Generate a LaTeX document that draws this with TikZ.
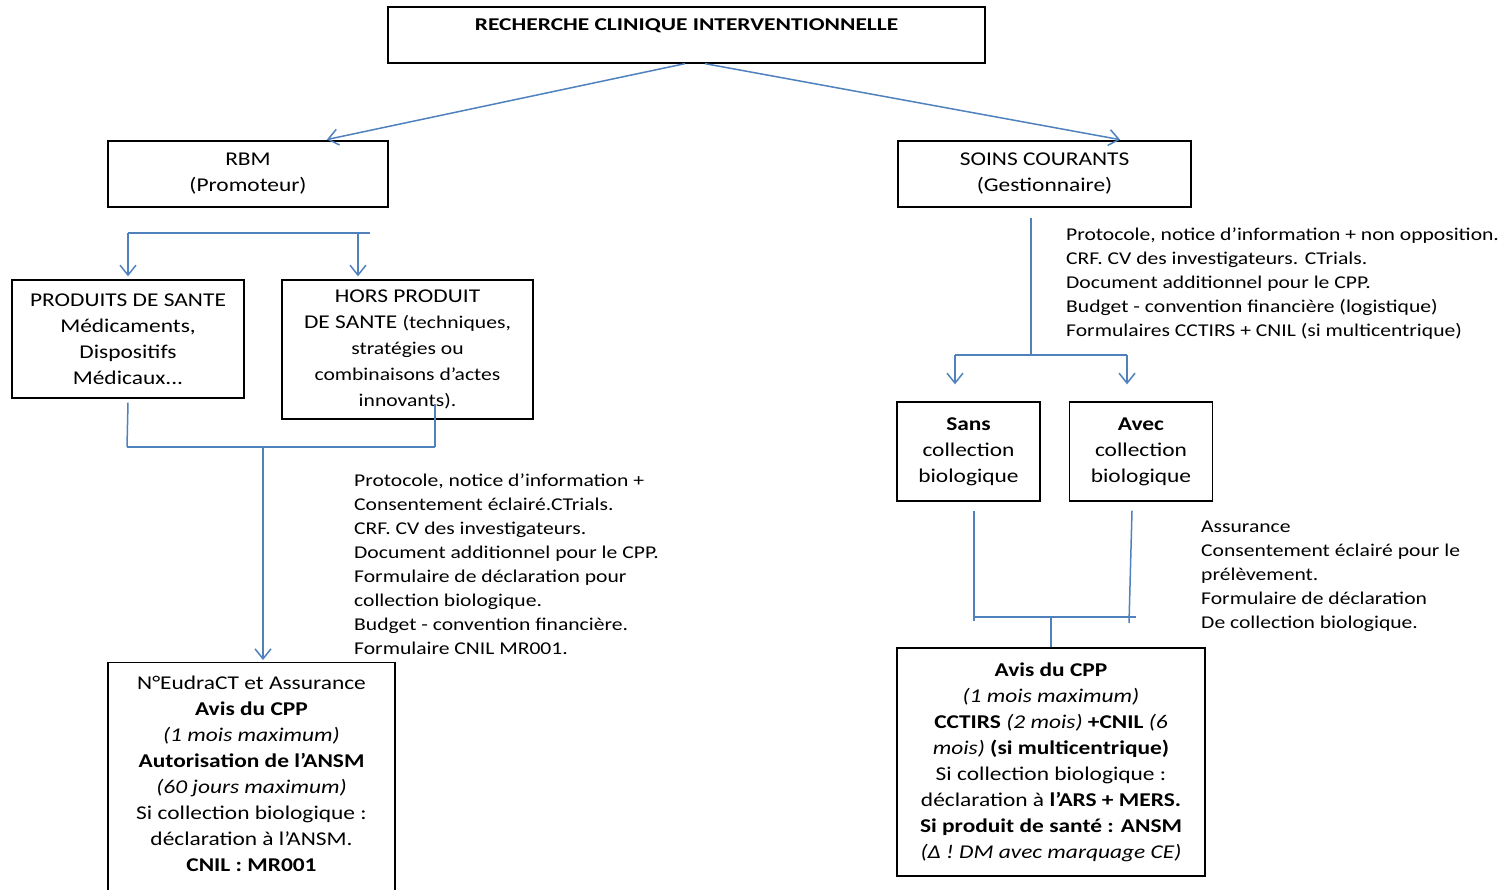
\documentclass[tikz,border=0pt]{standalone}
\usepackage{fontspec}
\setmainfont{Carlito}[FakeStretch=1.2]
\newfontfamily\titlefont{Carlito}[FakeStretch=1.3]
\newcommand\smalltxt{\fontsize{18}{25}\selectfont}
\usetikzlibrary{arrows.meta}
\definecolor{linkblue}{HTML}{4F81BD}
\tikzset{
      box/.style={draw=black, line width=1.3, align=center, inner sep=0,
            font=\fontsize{19.5}{26}\selectfont},
      link/.style={draw=linkblue, line width=1.5},
      arrow/.style={link, -{Straight Barb[length=10pt,width=16pt,line width=1.5pt]}},
      notes/.style={align=left, anchor=north west, inner sep=0,
            font=\fontsize{18}{24}\selectfont},
}
\begin{document}
\begin{tikzpicture}[x=1pt, y=-1pt]
        \useasboundingbox (0,0) rectangle (1501,889);

        % Top of the tree
        \node[box, minimum width=597, minimum height=56] (recherche) at (686.5,35)
            {{\titlefont\fontsize{18}{26}\selectfont\bfseries RECHERCHE CLINIQUE INTERVENTIONNELLE}\\[-6pt] ~};
        \node[box, minimum width=280, minimum height=66] (rbm) at (248,174) {RBM\\(Promoteur)};
        \node[box, minimum width=293, minimum height=66] (soins) at (1044.5,174) {SOINS COURANTS\\(Gestionnaire)};

        \draw[arrow, shorten >=4] ([xshift=-1.5]recherche.south) -- ([xshift=75]rbm.north);
        \draw[arrow, shorten >=4] ([xshift=18.5]recherche.south) -- ([xshift=79.5]soins.north);

        % RBM branch
        \node[box, minimum width=232, minimum height=118] (produits) at (128,339)
            {PRODUITS DE SANTE\\Médicaments,\\Dispositifs\\Médicaux...};
        \node[box, minimum width=251, minimum height=139] (hors) at (407.5,349.5)
            {HORS PRODUIT\\DE SANTE {\smalltxt(techniques,}\\{\smalltxt stratégies ou}\\
             {\smalltxt combinaisons d’actes}\\{\smalltxt innovants).}};
        \node[box, minimum width=287, minimum height=232, anchor=north] (ansm) at (251.5,662)
            {N°EudraCT et Assurance\\\textbf{Avis du CPP}\\\textit{(1 mois maximum)}\\
             \textbf{Autorisation de l’ANSM}\\\textit{(60 jours maximum)}\\
             Si collection biologique :\\déclaration à l’ANSM.\\\textbf{CNIL : MR001}\\[-17pt] ~};

        \coordinate (rbmsplitL) at (128,233);
        \coordinate (rbmsplitR) at (370,233);
        \draw[link] (rbmsplitL) -- (rbmsplitR);
        \draw[arrow, shorten >=3] (rbmsplitL) -- (produits.north);
        \draw[arrow, shorten >=3] ([xshift=-49.5]hors.north |- rbmsplitL) -- ([xshift=-49.5]hors.north);

        \coordinate (rbmmergeL) at (127,447);
        \coordinate (rbmmergeR) at (435,447);
        \draw[link] ([yshift=-4]produits.south) -- (rbmmergeL);
        \draw[link] ([xshift=27.5,yshift=16]hors.south) -- (rbmmergeR);
        \draw[link] (rbmmergeL) -- (rbmmergeR);
        \draw[arrow, shorten >=2] ([xshift=11.5]ansm.north |- rbmmergeL) -- ([xshift=11.5]ansm.north);

        \node[notes] (dossierrbm) at (354,474)
            {Protocole, notice d’information +\\Consentement éclairé.CTrials.\\
             CRF. CV des investigateurs.\\Document additionnel pour le CPP.\\
             Formulaire de déclaration pour\\collection biologique.\\
             Budget - convention financière.\\Formulaire CNIL MR001.};

        % Soins courants branch
        \node[box, minimum width=143, minimum height=99] (sans) at (968.5,451.5)
            {\textbf{Sans}\\collection\\biologique};
        \node[box, minimum width=143, minimum height=99] (avec) at (1141,451.5)
            {\textbf{Avec}\\collection\\biologique};
        \node[box, minimum width=308, minimum height=228] (cpp) at (1051,762)
            {\textbf{Avis du CPP}\\\textit{(1 mois maximum)}\\
             \textbf{CCTIRS} \textit{(2 mois)} \textbf{+CNIL} \textit{(6}\\
             \textit{mois)} \textbf{(si multicentrique)}\\
             Si collection biologique :\\déclaration à \textbf{l’ARS + MERS.}\\
             \textbf{Si produit de santé : ANSM}\\\textit{(Δ ! DM avec marquage CE)}};

        \coordinate (soinssplit) at (1031,355);
        \coordinate (soinssplitL) at (955,355);
        \coordinate (soinssplitR) at (1127,355);
        \draw[link] ([xshift=-13.5,yshift=-10]soins.south) -- (soinssplit);
        \draw[link] (soinssplitL) -- (soinssplitR);
        \draw[arrow, shorten >=17] (soinssplitL) -- ([xshift=-13.5]sans.north);
        \draw[arrow, shorten >=17] (soinssplitR) -- ([xshift=-14]avec.north);

        \coordinate (soinsmergeL) at (974,617);
        \coordinate (soinsmergeR) at (1136,617);
        \draw[link] ([xshift=5.5,yshift=-9]sans.south) -- (974,621);
        \draw[link] ([xshift=-9,yshift=-9]avec.south) -- (1129,623);
        \draw[link] (soinsmergeL) -- (soinsmergeR);
        \draw[link] (cpp.north |- soinsmergeL) -- (cpp.north);

        \node[notes] (dossiersoins) at (1066,228)
            {Protocole, notice d’information + non opposition.\\
             CRF. CV des investigateurs. CTrials.\\Document additionnel pour le CPP.\\
             Budget - convention financière (logistique)\\
             Formulaires CCTIRS + CNIL (si multicentrique)};
        \node[notes] (dossierbio) at (1201,521)
            {Assurance\\Consentement éclairé pour le\\prélèvement.\\
             Formulaire de déclaration\\De collection biologique.};

\end{tikzpicture}
\end{document}
